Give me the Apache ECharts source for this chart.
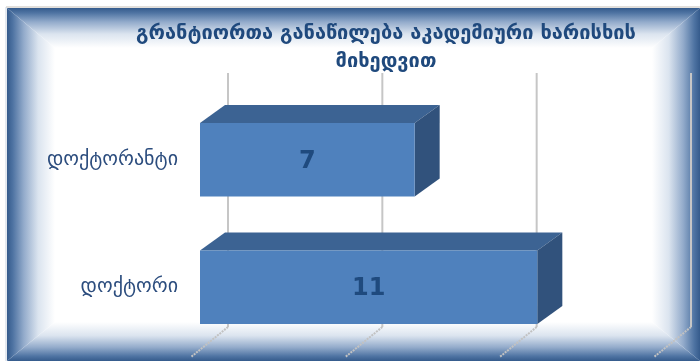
<!DOCTYPE html>
<html>
<head>
<meta charset="utf-8">
<script src="https://cdn.jsdelivr.net/npm/echarts@6/dist/echarts.min.js"></script>
<style>
html,body{margin:0;padding:0;background:#fff;}
#chart{width:700px;height:361px;}
</style>
</head>
<body>
<div id="chart"></div>
<script>
const titleLines = ['გრანტიორთა განაწილება აკადემიური ხარისხის', 'მიხედვით'];
const categories = ['დოქტორანტი', 'დოქტორი'];
const values = [7, 11];
const gridTicks = [0, 5, 10, 15];
const axisMax = 15;
const tickStep = 5;

const FONT = '"DejaVu Sans", "Noto Sans", sans-serif';
const DEPTH_X = 25, DEPTH_Y = -18;

function edgeGrad(x, y, x2, y2, reverse) {
  const stops = [
    { offset: 0, color: '#355b8c' },
    { offset: 0.12, color: '#4e73a2' },
    { offset: 0.35, color: '#93abcb' },
    { offset: 0.65, color: '#dbe4ef' },
    { offset: 1, color: '#ffffff' }
  ];
  const s = reverse ? stops.map(o => ({ offset: 1 - o.offset, color: o.color })).reverse() : stops;
  return new echarts.graphic.LinearGradient(x, y, x2, y2, s);
}

const chart = echarts.init(document.getElementById('chart'), null, { renderer: 'canvas' });

const option = {
  backgroundColor: '#ffffff',
  animation: false,
  title: {
    text: titleLines.join('\n'),
    left: 381,
    top: 15,
    textAlign: 'center',
    textStyle: { fontFamily: FONT, fontSize: 20, fontWeight: 'bold', color: '#1f497d', lineHeight: 28 }
  },
  graphic: [
    { type: 'line', shape: { x1: 6, y1: 7, x2: 700, y2: 7 }, style: { stroke: '#d8d5cf', lineWidth: 1.5 }, z: -5 },
    { type: 'line', shape: { x1: 6, y1: 7, x2: 6, y2: 361 }, style: { stroke: '#c9d3e0', lineWidth: 1 }, z: -5 },
    { type: 'polygon', shape: { points: [[7, 8], [700, 8], [652, 48], [55, 48]] }, style: { fill: edgeGrad(0, 0, 0, 1, false) }, z: -4 },
    { type: 'polygon', shape: { points: [[7, 361], [700, 361], [652, 322], [55, 322]] }, style: { fill: edgeGrad(0, 0, 0, 1, true) }, z: -4 },
    { type: 'polygon', shape: { points: [[7, 8], [55, 48], [55, 322], [7, 361]] }, style: { fill: edgeGrad(0, 0, 1, 0, false) }, z: -3 },
    { type: 'polygon', shape: { points: [[700, 8], [700, 361], [652, 322], [652, 48]] }, style: { fill: edgeGrad(0, 0, 1, 0, true) }, z: -3 }
  ],
  grid: [
    { left: 228, width: 463, top: 73, height: 254 },
    { left: 200, width: 460, top: 96, height: 255 }
  ],
  xAxis: [
    {
      gridIndex: 0, type: 'value', min: 0, max: axisMax, interval: tickStep,
      axisLine: { show: false }, axisTick: { show: false }, axisLabel: { show: false },
      splitLine: { show: false }
    },
    {
      gridIndex: 1, type: 'value', min: 0, max: axisMax, interval: tickStep,
      axisLine: { show: false }, axisTick: { show: false }, axisLabel: { show: false },
      splitLine: { show: false }
    }
  ],
  yAxis: [
    {
      gridIndex: 0, type: 'value', min: 0, max: 1, show: false
    },
    {
      gridIndex: 1, type: 'category', inverse: true, data: categories,
      axisLine: { show: false }, axisTick: { show: false }, splitLine: { show: false },
      axisLabel: { margin: 22, fontFamily: FONT, fontSize: 20, color: '#2c4d7e', padding: [10, 0, 0, 0] }
    }
  ],
  series: [
    {
      type: 'custom',
      xAxisIndex: 0, yAxisIndex: 0,
      clip: false,
      z: 5,
      data: gridTicks.map(t => [t, 0]),
      encode: { x: 0, y: 1 },
      renderItem: function (params, api) {
        const p = api.coord([api.value(0), 0]);
        const top = api.coord([api.value(0), 1]);
        return {
          type: 'group',
          children: [
            { type: 'line', shape: { x1: p[0], y1: top[1], x2: p[0], y2: p[1] }, style: { stroke: '#c6c6c6', lineWidth: 2 } },
            { type: 'line', shape: { x1: p[0], y1: p[1], x2: p[0] - 37, y2: p[1] + 30 }, style: { stroke: '#c2c2c2', lineWidth: 2, lineDash: [2, 1] } }
          ]
        };
      }
    },
    {
      type: 'custom',
      xAxisIndex: 1, yAxisIndex: 1,
      clip: false,
      z: 8,
      data: values.map((v, i) => [v, i]),
      encode: { x: 0, y: 1 },
      renderItem: function (params, api) {
        const v = api.value(0);
        const c = api.value(1);
        const p0 = api.coord([0, c]);
        const p1 = api.coord([v, c]);
        const h = api.size([0, 1])[1] * 0.575;
        const x0 = p0[0], x1 = p1[0];
        const yT = p0[1] - h / 2, yB = p0[1] + h / 2;
        return {
          type: 'group',
          children: [
            { type: 'polygon', shape: { points: [[x0, yT], [x0 + DEPTH_X, yT + DEPTH_Y], [x1 + DEPTH_X, yT + DEPTH_Y], [x1, yT]] }, style: { fill: '#3c6393' } },
            { type: 'polygon', shape: { points: [[x1, yT], [x1 + DEPTH_X, yT + DEPTH_Y], [x1 + DEPTH_X, yB + DEPTH_Y], [x1, yB]] }, style: { fill: '#31527c' } },
            { type: 'rect', shape: { x: x0, y: yT, width: x1 - x0, height: yB - yT }, style: { fill: '#4f81bd' } },
            { type: 'text', style: { text: String(v), x: (x0 + x1) / 2, y: (yT + yB) / 2 + 2, align: 'center', verticalAlign: 'middle', fill: '#1f4a7e', font: 'bold 24px ' + FONT } }
          ]
        };
      }
    }
  ]
};

chart.setOption(option);
</script>
</body>
</html>
